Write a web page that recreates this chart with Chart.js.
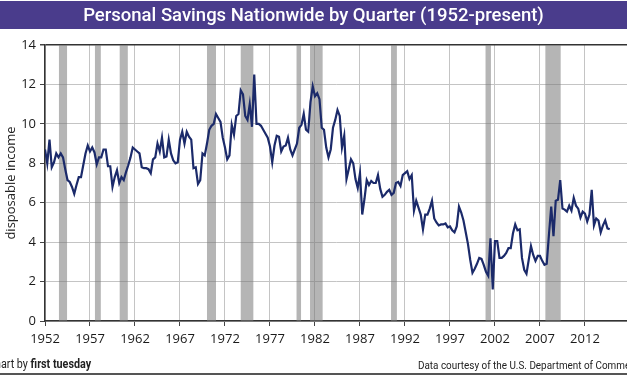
<!DOCTYPE html>
<html><head><meta charset="utf-8">
<script src="https://cdn.jsdelivr.net/npm/chart.js@4"></script>
<style>
html,body{margin:0;padding:0;background:#fff;overflow:hidden;width:627px;height:376px}
#wrap{position:relative;width:627px;height:376px;overflow:hidden}
canvas{position:absolute;left:0;top:0}
.foot{position:absolute;top:358px;font-family:Roboto,'Open Sans',sans-serif;font-size:11.5px;color:#222;white-space:nowrap;line-height:14px;transform:scaleX(0.86);transform-origin:0 0}
#fl{left:-12px;font-size:12.5px;top:357px}
#fr{left:418px}
#rule{position:absolute;left:0;top:373px;width:627px;height:2px;background:#555}
</style></head>
<body><div id="wrap"><canvas id="c" width="627" height="376"></canvas>
<div class="foot" id="fl">Chart by <b>first tuesday</b></div>
<div class="foot" id="fr">Data courtesy of the U.S. Department of Commerce</div>
<div id="rule"></div></div>
<script>
const startYear = 1952;
const savingsRate = [
 8.7, 8.0, 9.2, 7.8,   8.05, 8.5, 8.3, 8.5,   8.3, 7.7, 7.15, 7.05,   6.8, 6.45, 6.9, 7.3,
 7.3, 7.9, 8.5, 8.9,   8.6, 8.8, 8.55, 7.95,  8.3, 8.3, 8.7, 8.7,     7.85, 7.85, 6.8, 7.3,
 7.65, 7.0, 7.3, 7.15, 7.55, 7.9, 8.3, 8.8,   8.7, 8.6, 8.5, 7.8,     7.75, 7.75, 7.7, 7.5,
 8.2, 8.3, 9.0, 8.6,   9.3, 8.3, 8.35, 9.2,   8.5, 8.15, 8.0, 8.05,   9.2, 9.6, 9.0, 9.6,
 9.35, 9.2, 7.75, 7.8, 6.95, 7.15, 8.5, 8.4,  9.0, 9.7, 9.9, 10.0,    10.5, 10.3, 10.1, 9.3,
 8.8, 8.2, 8.4, 9.95,  9.45, 10.4, 10.5, 11.7, 11.5, 10.4, 10.2, 11.0, 9.85, 12.5, 10.0, 10.0,
 9.9, 9.7, 9.5, 9.3,   8.85, 8.05, 8.9, 9.4,  9.35, 8.6, 8.85, 8.9,   9.3, 8.7, 8.4, 8.7,
 9.0, 9.8, 9.95, 10.5, 9.7, 9.6, 11.1, 11.9,  11.4, 11.55, 11.25, 9.8, 9.7, 8.8, 8.3, 8.7,
 9.8, 10.2, 10.7, 10.4, 8.8, 9.4, 7.2, 7.7,   8.2, 8.0, 7.2, 6.75,    7.5, 5.4, 6.2, 7.15,
 6.9, 7.1, 7.0, 7.0,   7.4, 6.7, 6.3, 6.4,    6.55, 6.65, 6.4, 6.5,   7.0, 7.05, 6.85, 7.4,
 7.5, 7.6, 7.2, 7.4,   5.6, 6.1, 5.75, 5.4,   4.65, 5.4, 5.4, 5.7,    6.1, 5.2, 5.0, 4.85,
 4.9, 4.9, 4.95, 4.75, 4.8, 4.6, 4.5, 4.8,    5.8, 5.5, 5.1, 4.5,     3.9, 3.1, 2.45, 2.65,
 2.9, 3.2, 3.15, 2.85, 2.5, 2.3, 4.2, 1.6,    4.05, 4.05, 3.2, 3.2,   3.3, 3.45, 3.7, 3.7,
 4.45, 4.9, 4.6, 4.65, 3.2, 2.6, 2.4, 3.1,    3.8, 3.35, 3.05, 3.3,   3.3, 3.05, 2.85, 2.9,
 4.4, 5.8, 4.3, 6.1,   6.15, 7.15, 5.7, 5.65, 5.55, 5.85, 5.6, 6.25,  5.85, 5.7, 5.25, 5.55,
 5.45, 5.05, 5.4, 6.65, 4.85, 5.2, 5.1, 4.5,  4.85, 5.1, 4.7, 4.65
];
const tickYears = [1952,1957,1962,1967,1972,1977,1982,1987,1992,1997,2002,2007,2012];
const yTicks = [0,2,4,6,8,10,12,14];
const recessionStart = [1953.55,1957.55,1960.3,1970.0,1973.75,1979.95,1981.45,1990.45,2000.95,2007.6];
const recessionEnd   = [1954.45,1958.2,1961.2,1971.0,1975.15,1980.45,1982.85,1991.1,2001.55,2009.3];
const titleText = 'Personal Savings Nationwide by Quarter (1952-present)';
const yTitle = 'disposable income';

const points = savingsRate.map((v,i)=>({x: startYear + i/4, y: v}));

const bannerPlugin = {
  id:'banner',
  beforeDraw(chart){
    const c = chart.ctx;
    c.save();
    c.fillStyle = '#4a3c8c';
    c.fillRect(0,1,chart.width,28);
    c.restore();
  }
};
const recessionPlugin = {
  id:'recessions',
  beforeDatasetsDraw(chart){
    const c = chart.ctx, xs = chart.scales.x, a = chart.chartArea;
    c.save();
    c.fillStyle = 'rgba(120,120,120,0.55)';
    for(let i=0;i<recessionStart.length;i++){
      const x0 = xs.getPixelForValue(recessionStart[i]);
      const x1 = xs.getPixelForValue(recessionEnd[i]);
      c.fillRect(x0, a.top, x1-x0, a.bottom-a.top);
    }
    c.restore();
  }
};

const tickFont = {family:"'Open Sans', sans-serif", size:13};
new Chart(document.getElementById('c').getContext('2d'), {
  type:'line',
  data:{datasets:[{data:points, borderColor:'#1b2a6a', borderWidth:2.2, pointRadius:0, tension:0, fill:false}]},
  options:{
    responsive:false, animation:false, devicePixelRatio:1,
    layout:{padding:{left:0,right:0,top:0,bottom:20}},
    plugins:{
      legend:{display:false}, tooltip:{enabled:false},
      title:{display:true, text:titleText, color:'#ffffff',
        font:{family:"Roboto, 'Open Sans', sans-serif", size:18.5, weight:'500', lineHeight:1.3},
        padding:{top:4,bottom:16.95}}
    },
    scales:{
      x:{type:'linear', min:1952, max:2016.67,
        afterBuildTicks:s=>{s.ticks = tickYears.map(v=>({value:v}));},
        afterFit:s=>{s.height = 35;},
        ticks:{color:'#1a1a1a', font:tickFont, padding:5, maxRotation:0, autoSkip:false, callback:v=>String(v)},
        grid:{color:'#c4c4c4', lineWidth:1, tickLength:5, tickColor:'#444', drawTicks:true},
        border:{color:'#333', width:1.5}
      },
      y:{min:0, max:14,
        afterBuildTicks:s=>{s.ticks = yTicks.map(v=>({value:v}));},
        afterFit:s=>{s.width = 45;},
        ticks:{color:'#1a1a1a', font:tickFont, padding:4},
        grid:{color:c=> (c.tick && c.tick.value===14) ? '#333' : '#c4c4c4', lineWidth:c=> (c.tick && c.tick.value===14) ? 1.5 : 1, tickLength:5, tickColor:'#444'},
        border:{color:'#333', width:1.5},
        title:{display:true, text:yTitle, color:'#222', font:{family:"'Open Sans', sans-serif", size:13}, padding:{top:3,bottom:0}}
      }
    }
  },
  plugins:[bannerPlugin, recessionPlugin]
});
</script>
</body></html>
